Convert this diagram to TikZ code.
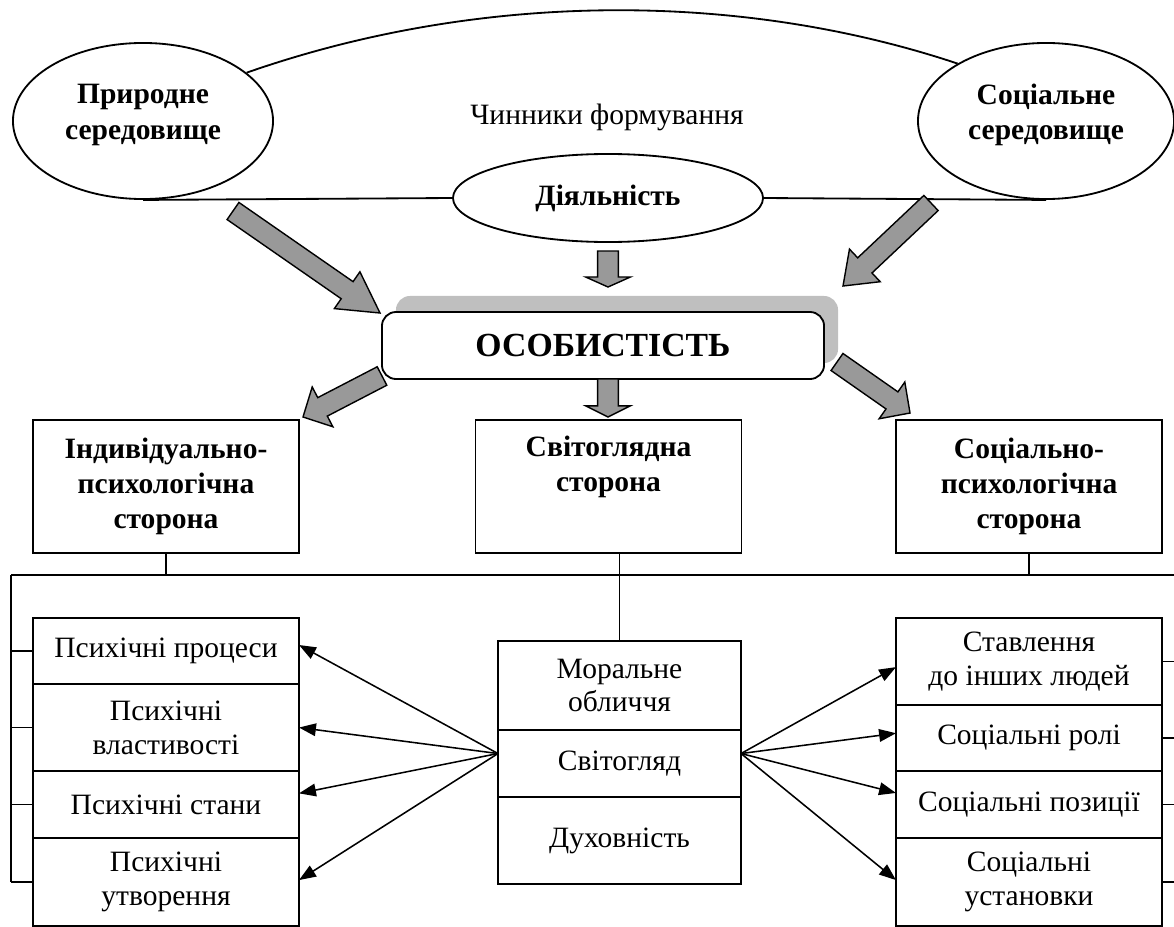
\documentclass[tikz,border=0pt]{standalone}
\usepackage{fontspec}
\setmainfont{Liberation Serif}
\usetikzlibrary{positioning, shapes.geometric, calc, arrows.meta, shadows}

% thick grey arrow: tail, tip, head length
\newcommand{\blockarrow}[3]{%
  \coordinate (ba) at ($(#2)!#3!(#1)$);
  \filldraw[blockarr] ($(#1)!0.26cm!90:(#2)$) -- ($(ba)!0.26cm!90:(#2)$) -- ($(ba)!0.56cm!90:(#2)$) -- (#2)
    -- ($(ba)!0.56cm!-90:(#2)$) -- ($(ba)!0.26cm!-90:(#2)$) -- ($(#1)!0.26cm!-90:(#2)$) -- cycle;
}

\begin{document}
\begin{tikzpicture}[x=0.025cm, y=-0.025cm, line width=1.3pt]
  \tikzset{ oval/.style    ={draw, ellipse, inner sep=0pt, align=center, font=\bfseries\fontsize{21}{25}\selectfont} }
  \tikzset{ sidebox/.style ={draw, rectangle, minimum width=6.65cm, minimum height=3.325cm, inner sep=0pt, outer sep=0pt, align=center, font=\bfseries\fontsize{21}{25}\selectfont} }
  \tikzset{ cell/.style    ={draw, rectangle, minimum width=6.65cm, inner sep=0pt, outer sep=0pt, align=center, font=\fontsize{21}{24}\selectfont} }
  \tikzset{ fan/.style     ={line width=1.1pt, -{Triangle[length=12pt, width=9pt]}} }
  \tikzset{ blockarr/.style={draw=black, fill=black!40, line width=1pt} }

  \useasboundingbox (0,0) rectangle (1174,926);

  % factors
  \node[oval, minimum width=6.5cm,  minimum height=3.9cm] (pn) at ( 143,121) {Природне\\середовище\\[-12pt]\mbox{}};
  \node[oval, minimum width=6.4cm,  minimum height=3.9cm] (sn) at (1046,121) {Соціальне\\середовище\\[-12pt]\mbox{}};
  \node[oval, minimum width=7.75cm, minimum height=2.2cm] (dn) at ( 608,198) {Діяльність};
  \node[font=\fontsize{21}{25}\selectfont] (tl) at (607,117) {Чинники формування};

  \draw (pn.25) .. controls (480,-9) and (740,-9) .. (sn.147);
  \draw (pn.south) -- (dn.west);
  \draw (dn.east) -- (sn.south);

  % personality
  \node[draw, fill=white, rounded corners=10pt, minimum width=11.05cm, minimum height=1.675cm, inner sep=0pt,
        font=\bfseries\fontsize{24}{28}\selectfont,
        drop shadow={shadow xshift=0.35cm, shadow yshift=0.4cm, fill=black!25, opacity=1}] (os) at (603,345.5) {ОСОБИСТІСТЬ};

  \coordinate (a1t) at (233,211); \coordinate (a1h) at (380,313);
  \coordinate (a2t) at (608,251); \coordinate (a2h) at (608,287);
  \coordinate (a3t) at (931,203); \coordinate (a3h) at (843,286);
  \coordinate (a4t) at (382,376); \coordinate (a4h) at (303,417);
  \coordinate (a5t) at (608,379); \coordinate (a5h) at (608,417);
  \coordinate (a6t) at (837,362); \coordinate (a6h) at (910,413);

  \blockarrow{a1t}{a1h}{1.0cm}
  \blockarrow{a2t}{a2h}{0.25cm}
  \blockarrow{a3t}{a3h}{0.75cm}
  \blockarrow{a4t}{a4h}{0.55cm}
  \blockarrow{a5t}{a5h}{0.28cm}
  \blockarrow{a6t}{a6h}{0.55cm}

  % three sides
  \node[sidebox] (ind) at ( 166,486.5) {Індивідуально-\\психологічна\\сторона};
  \node[sidebox] (ws)  at (608.5,486.5) {Світоглядна\\сторона\\\strut};
  \node[sidebox] (soc) at (1029,486.5) {Соціально-\\психологічна\\сторона};

  % left column
  \node[cell, anchor=north, minimum height=1.65cm]  (l1) at (166,618) {Психічні процеси};
  \node[cell, minimum height=2.175cm, below=0pt of l1] (l2) {Психічні\\властивості};
  \node[cell, minimum height=1.675cm, below=0pt of l2] (l3) {Психічні стани};
  \node[cell, minimum height=2.2cm,   below=0pt of l3] (l4) {Психічні\\утворення};

  % middle column
  \node[cell, anchor=north, minimum width=6.075cm, minimum height=2.225cm] (m1) at (619.5,641) {Моральне\\обличчя};
  \node[cell, minimum width=6.075cm, minimum height=1.675cm, below=0pt of m1] (m2) {Світогляд};
  \node[cell, minimum width=6.075cm, minimum height=2.175cm, below=0pt of m2] (m3) {Духовність};

  % right column
  \node[cell, anchor=north, minimum height=2.175cm] (r1) at (1029,618) {Ставлення\\до інших людей};
  \node[cell, minimum height=1.65cm,  below=0pt of r1] (r2) {Соціальні ролі};
  \node[cell, minimum height=1.675cm, below=0pt of r2] (r3) {Соціальні позиції};
  \node[cell, minimum height=2.2cm,   below=0pt of r3] (r4) {Соціальні\\установки};

  % bus lines
  \coordinate (lbus) at (11,575);
  \coordinate (rbus) at (1174,575);
  \draw (lbus) -- (rbus);
  \draw (ind.south) -- (ind.south |- lbus);
  \draw (soc.south) -- (soc.south |- lbus);
  \draw (ws.south -| m1.north) -- (m1.north);
  \draw (lbus) -- (lbus |- l4.west);
  \foreach \c in {l1,l2,l3,l4} \draw (\c.west -| lbus) -- (\c.west);
  \foreach \c in {r1,r2,r3,r4} \draw (\c.east) -- (\c.east -| rbus);

  % fans
  \coordinate (fl) at ([yshift=0.25cm]m2.west);
  \coordinate (fr) at ([yshift=0.25cm]m2.east);
  \draw[fan] (fl) -- ([yshift=0.15cm]l1.east);
  \draw[fan] (fl) -- (l2.east);
  \draw[fan] (fl) -- ([yshift=0.28cm]l3.east);
  \draw[fan] (fl) -- ([yshift=0.05cm]l4.east);
  \draw[fan] (fr) -- ([yshift=-0.14cm]r1.west);
  \draw[fan] (fr) -- ([yshift=0.12cm]r2.west);
  \draw[fan] (fr) -- ([yshift=0.29cm]r3.west);
  \draw[fan] (fr) -- ([yshift=0.05cm]r4.west);
\end{tikzpicture}
\end{document}
